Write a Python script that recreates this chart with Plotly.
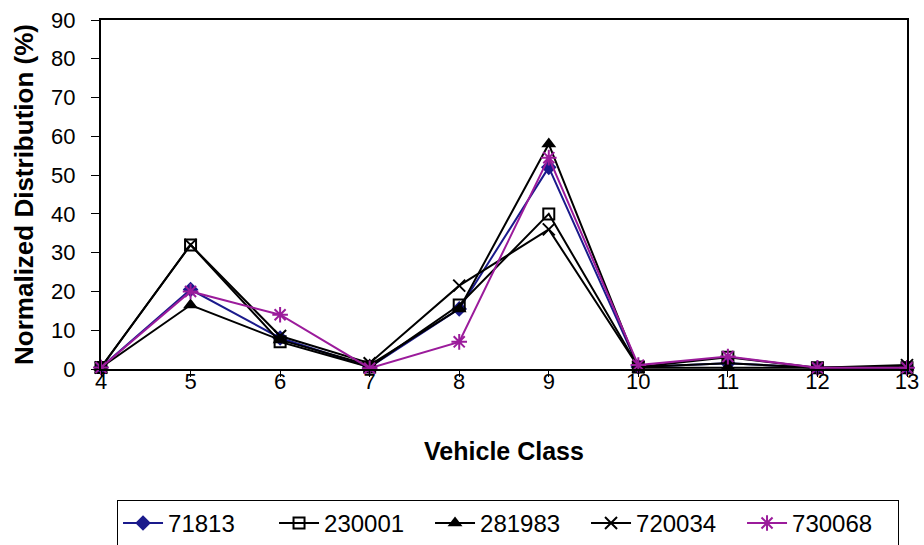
import plotly.graph_objects as go

vehicle_class = [4, 5, 6, 7, 8, 9, 10, 11, 12, 13]
s71813 = [0.4, 20.5, 8.0, 0.5, 15.5, 52.0, 0.5, 1.5, 0.3, 0.3]
s230001 = [0.4, 32.0, 7.0, 0.5, 16.5, 40.0, 0.5, 3.0, 0.3, 0.3]
s281983 = [0.4, 16.5, 7.5, 1.0, 15.5, 58.0, 0.3, 0.3, 0.3, 0.5]
s720034 = [0.4, 32.0, 8.5, 1.5, 21.5, 36.0, 0.5, 1.5, 0.3, 1.0]
s730068 = [0.4, 20.0, 14.0, 0.2, 7.0, 54.5, 1.0, 3.2, 0.3, 0.3]
names = ["71813", "230001", "281983", "720034", "730068"]
y_ticks = list(range(0, 91, 10))

FONT = "Arial, Liberation Sans, sans-serif"

series = [
    (names[0], s71813, "#1a1a8c", dict(symbol="diamond", size=12, color="#1a1a8c")),
    (names[1], s230001, "#000000", dict(symbol="square-open", size=11, color="#000000",
                                        line=dict(width=2, color="#000000"))),
    (names[2], s281983, "#000000", dict(symbol="triangle-up", size=13, color="#000000")),
    (names[3], s720034, "#000000", dict(symbol="x-thin-open", size=12, color="#000000",
                                        line=dict(width=2, color="#000000"))),
    (names[4], s730068, "#9b1b9b", dict(symbol="asterisk-open", size=13, color="#9b1b9b",
                                        line=dict(width=2, color="#9b1b9b"))),
]

fig = go.Figure()
for name, vals, col, mk in series:
    fig.add_trace(go.Scatter(
        x=vehicle_class, y=vals, name=name, mode="lines+markers",
        line=dict(color=col, width=2), marker=mk, cliponaxis=False,
    ))

fig.update_layout(
    width=924, height=545,
    paper_bgcolor="white", plot_bgcolor="white",
    margin=dict(l=101, r=17, t=20, b=176, autoexpand=False),
    font=dict(family=FONT, color="black", size=22),
    showlegend=True,
    hovermode=False,
    legend=dict(
        orientation="h", x=0.505, xanchor="center", y=-0.375, yanchor="top",
        bordercolor="black", borderwidth=1, bgcolor="white",
        font=dict(family=FONT, size=24, color="black"),
        itemwidth=40, tracegroupgap=0,
        entrywidth=101, entrywidthmode="pixels",
    ),
)
fig.update_xaxes(
    range=[4, 13], tickmode="array", tickvals=vehicle_class,
    ticktext=[str(v) for v in vehicle_class],
    showgrid=False, zeroline=False,
    showline=True, linecolor="black", linewidth=2, mirror=True,
    ticks="outside", ticklen=6, tickwidth=1, tickcolor="black",
    ticklabelstandoff=-14, ticklabeloverflow="allow",
    tickfont=dict(family=FONT, size=22, color="black"),
    title=dict(text="<b>Vehicle Class</b>", font=dict(family=FONT, size=25, color="black"), standoff=49),
)
fig.update_yaxes(
    range=[0, 90], tickmode="array", tickvals=y_ticks,
    ticktext=[str(v) for v in y_ticks],
    showgrid=False, zeroline=False,
    showline=True, linecolor="black", linewidth=2, mirror=True,
    ticks="outside", ticklen=8, tickwidth=1, tickcolor="black",
    ticklabelstandoff=11, ticklabeloverflow="allow",
    tickfont=dict(family=FONT, size=22, color="black"),
    title=dict(text="<b>Normalized Distribution (%)</b>", font=dict(family=FONT, size=26, color="black"), standoff=10),
)

fig.write_html(
    "out.html",
    config={"displayModeBar": False, "staticPlot": True},
    post_script="document.body.style.margin='0';document.body.style.overflow='hidden';",
)
